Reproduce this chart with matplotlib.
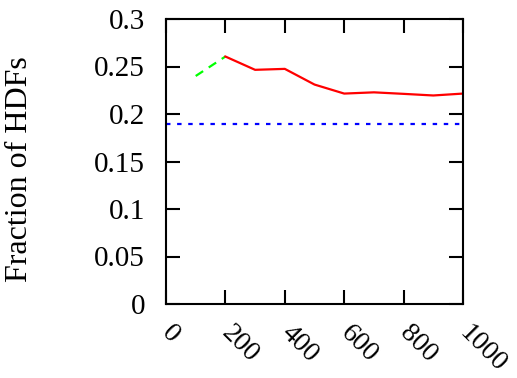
import matplotlib
matplotlib.use("Agg")
import matplotlib.pyplot as plt

plt.rcParams['font.family'] = ['Liberation Serif', 'DejaVu Serif']

# sample sizes and measured fractions
warmup_x = [100, 200]
warmup_y = [0.240, 0.2605]
run_x = [200, 300, 400, 500, 600, 700, 800, 900, 1000]
run_y = [0.2605, 0.2465, 0.2475, 0.231, 0.2215, 0.2228, 0.2212, 0.2195, 0.2215]
baseline = 0.19

x_ticks = [0, 200, 400, 600, 800, 1000]
y_ticks = [0, 0.05, 0.1, 0.15, 0.2, 0.25, 0.3]
y_labels = ['0', '0.05', '0.1', '0.15', '0.2', '0.25', '0.3']

fig = plt.figure(figsize=(5.17, 3.78), dpi=100)
ax = fig.add_axes([166 / 517, 1 - 304 / 378, 297 / 517, 285 / 378])

ax.plot(warmup_x, warmup_y, color='#00ff00', lw=1.6, dashes=(4, 3))
ax.plot(run_x, run_y, color='#ff0000', lw=1.6)
ax.axhline(baseline, color='#0000ff', lw=1.6, dashes=(2, 3))

ax.set_xlim(0, 1000)
ax.set_ylim(0, 0.3)
ax.set_xticks(x_ticks)
ax.set_yticks(y_ticks)
ax.set_yticklabels(y_labels)
ax.set_xticklabels([str(v) for v in x_ticks], rotation=-45, ha='left', va='center',
                   rotation_mode='anchor')
ax.tick_params(direction='in', length=10, width=1.5, top=True, right=True,
               labelsize=21, pad=15)
ax.tick_params(axis='x', labelsize=20, pad=18)
for s in ax.spines.values():
    s.set_linewidth(1.5)

fig.text(20 / 517, 1 - 169 / 378, 'Fraction of HDFs', rotation=90,
         ha='center', va='center', fontsize=23)

fig.savefig('out.png', dpi=100)
